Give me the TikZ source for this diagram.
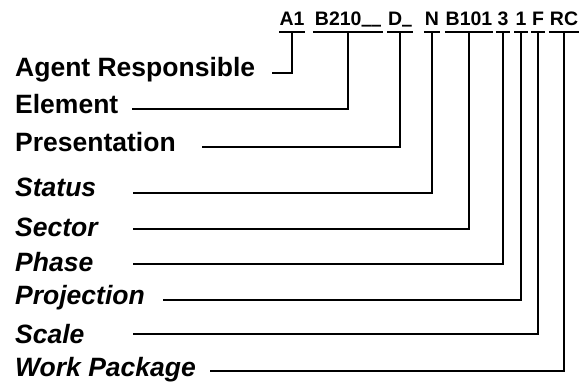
\documentclass[tikz,border=0pt]{standalone}
\usepackage{fontspec}
\setmainfont{Liberation Sans}
\newfontfamily\barfont{DejaVu Sans}
\usepackage{tikz}

\newcommand{\lowbar}{\raisebox{3pt}{\barfont\bfseries\_}}

\tikzset{
  code/.style={anchor=base, inner sep=0pt, font=\bfseries\fontsize{19.5}{22}\selectfont},
  lbl/.style={anchor=base west, inner sep=0pt, font=\bfseries\fontsize{26.5}{30}\selectfont},
  ilbl/.style={lbl, font=\bfseries\itshape\fontsize{26.5}{30}\selectfont},
  link/.style={line width=2pt, color=black},
  bar/.style={line width=2pt, color=black}
}

\begin{document}
\begin{tikzpicture}[x=1pt, y=-1pt]
		\useasboundingbox (0,0) rectangle (588,386);
		% the code
		\node[code, minimum width=22pt] (a1) at (292,25) {A1};
		\node[code, minimum width=70pt] (b210) at (348,25) {B210\lowbar\lowbar};
		\node[code, minimum width=25pt] (d) at (400,25) {D\lowbar};
		\node[code, minimum width=16pt] (n) at (432,25) {N};
		\node[code, minimum width=48pt] (b101) at (469,25) {B101};
		\node[code, minimum width=14pt] (three) at (503,25) {3};
		\node[code, minimum width=13pt] (one) at (521,25) {1};
		\node[code, minimum width=13pt] (f) at (538,25) {F};
		\node[code, minimum width=30pt] (rc) at (564,25) {RC};
		\foreach \c in {a1,b210,d,n,b101,three,one,f,rc}
			\draw[bar] ([yshift=-7pt]\c.base west) -- ([yshift=-7pt]\c.base east);
		% the labels
		\node[lbl] (agent) at (15,76.7) {Agent Responsible};
		\node[lbl] (elem) at (15,113) {Element};
		\node[lbl] (pres) at (15,151) {Presentation};
		\node[ilbl] (stat) at (15,196.7) {Status};
		\node[ilbl] (sect) at (15,236) {Sector};
		\node[ilbl] (phase) at (15,271.7) {Phase};
		\node[ilbl] (proj) at (15,304.3) {Projection};
		\node[ilbl] (scale) at (15,343.3) {Scale};
		\node[ilbl] (wp) at (15,376.7) {Work Package};
		% line ends next to the labels
		\coordinate (agentEnd) at (272,73);
		\coordinate (elemEnd) at (132,109);
		\coordinate (presEnd) at (202,147);
		\coordinate (statEnd) at (133,193);
		\coordinate (sectEnd) at (133,229);
		\coordinate (phaseEnd) at (133,264);
		\coordinate (projEnd) at (163,300);
		\coordinate (scaleEnd) at (133,334);
		\coordinate (wpEnd) at (210,371);
		\draw[link] ([yshift=-7pt]a1.base) |- (agentEnd);
		\draw[link] ([yshift=-7pt]b210.base) |- (elemEnd);
		\draw[link] ([yshift=-7pt]d.base) |- (presEnd);
		\draw[link] ([yshift=-7pt]n.base) |- (statEnd);
		\draw[link] ([yshift=-7pt]b101.base) |- (sectEnd);
		\draw[link] ([yshift=-7pt]three.base) |- (phaseEnd);
		\draw[link] ([yshift=-7pt]one.base) |- (projEnd);
		\draw[link] ([yshift=-7pt]f.base) |- (scaleEnd);
		\draw[link] ([yshift=-7pt]rc.base) |- (wpEnd);
\end{tikzpicture}
\end{document}
